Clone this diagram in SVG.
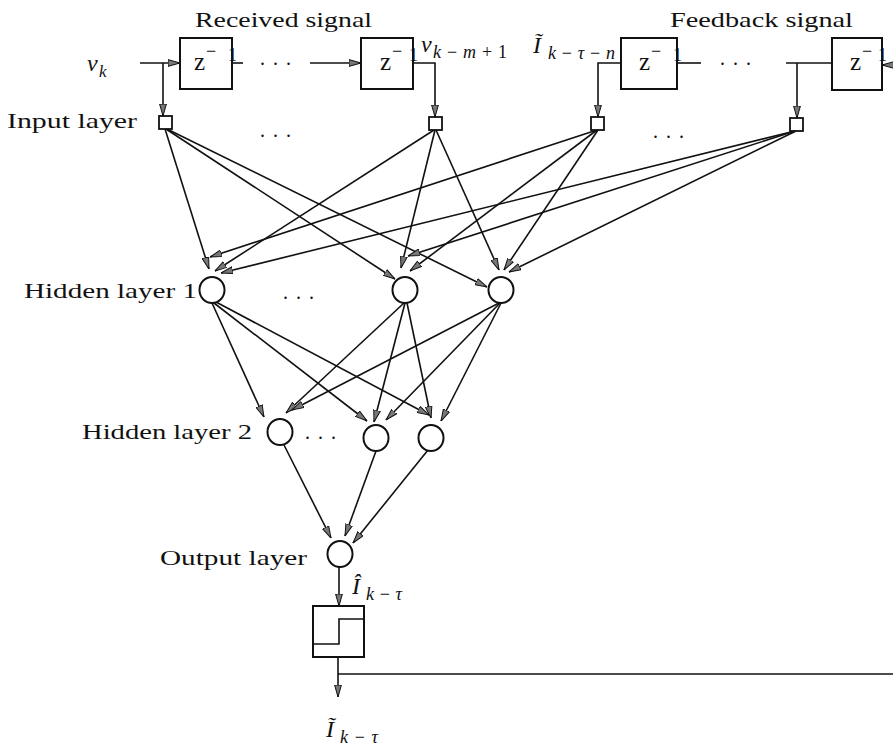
<svg xmlns="http://www.w3.org/2000/svg" width="893" height="748" viewBox="0 0 893 748">
<style>
  .lbl { font-family: "Liberation Serif", "Times New Roman", serif; font-size: 22px; fill: #111; }
  .math { font-family: "Liberation Serif", "Times New Roman", serif; font-style: italic; fill: #111; }
  .z { font-family: "Liberation Serif", "Times New Roman", serif; font-size: 25px; fill: #111; }
  .sup { font-family: "Liberation Serif", "Times New Roman", serif; font-size: 18px; fill: #111; }
  .dots { font-family: "Liberation Serif", "Times New Roman", serif; font-size: 20px; fill: #111; letter-spacing: 8px; }
  .box { fill: none; stroke: #111; stroke-width: 2; }
  .node { fill: #fff; stroke: #111; stroke-width: 2; }
  .sq { fill: #fff; stroke: #111; stroke-width: 1.8; }
  .w { fill: none; stroke: #111; stroke-width: 1.6; }
  .a { fill: none; stroke: #111; stroke-width: 1.6; marker-end: url(#arr); }
</style>
<defs>
  <marker id="arr" viewBox="0 0 12 8" refX="12" refY="4" markerWidth="12" markerHeight="8" markerUnits="userSpaceOnUse" orient="auto">
    <path d="M0,0.6 L12,4 L0,7.4 Z" fill="#777" stroke="#111" stroke-width="1"/>
  </marker>
</defs>
<rect width="893" height="748" fill="#fff"/>

<!-- titles -->
<text class="lbl" x="195" y="27" textLength="177" lengthAdjust="spacingAndGlyphs">Received signal</text>
<text class="lbl" x="670" y="27" textLength="183" lengthAdjust="spacingAndGlyphs">Feedback signal</text>

<!-- layer labels -->
<text class="lbl" x="7" y="128" textLength="130" lengthAdjust="spacingAndGlyphs">Input layer</text>
<text class="lbl" x="24" y="298" textLength="173" lengthAdjust="spacingAndGlyphs">Hidden layer 1</text>
<text class="lbl" x="82" y="439" textLength="170" lengthAdjust="spacingAndGlyphs">Hidden layer 2</text>
<text class="lbl" x="160" y="565" textLength="147" lengthAdjust="spacingAndGlyphs">Output layer</text>

<!-- signal labels -->
<g id="label-vk">
  <text class="math" x="87" y="71" font-size="24">v</text>
  <text class="math" x="99" y="77" font-size="17">k</text>
</g>
<g id="label-vkm1">
  <text class="math" x="421" y="52" font-size="24">v</text>
  <text class="math" x="433" y="58" font-size="18" textLength="74" lengthAdjust="spacing">k<tspan font-style="normal">−</tspan>m<tspan font-style="normal">+1</tspan></text>
</g>
<g id="label-Itn">
  <text class="math" x="533" y="53" font-size="24">Ĩ</text>
  <text class="math" x="548" y="59" font-size="18" textLength="67" lengthAdjust="spacing">k<tspan font-style="normal">−</tspan>τ<tspan font-style="normal">−</tspan>n</text>
</g>
<g id="label-Ihat">
  <text class="math" x="352" y="594" font-size="24">Î</text>
  <text class="math" x="366" y="600" font-size="18" textLength="36" lengthAdjust="spacing">k<tspan font-style="normal">−</tspan>τ</text>
</g>
<g id="label-Itilde">
  <text class="math" x="326" y="737" font-size="24">Ĩ</text>
  <text class="math" x="340" y="743" font-size="18" textLength="38" lengthAdjust="spacing">k<tspan font-style="normal">−</tspan>τ</text>
</g>

<!-- dots -->
<text class="dots" x="260" y="65">...</text>
<text class="dots" x="720" y="65">...</text>
<text class="dots" x="260" y="137">...</text>
<text class="dots" x="653" y="138">...</text>
<text class="dots" x="283" y="299">...</text>
<text class="dots" x="305" y="439">...</text>

<!-- connectors -->
<g id="connectors">
  <!-- delay line -->
  <path class="a" d="M140,63 H180"/>
  <path class="a" d="M163,63 V116"/>
  <path class="w" d="M232,63 H243"/>
  <path class="a" d="M310,63 H361"/>
  <path class="a" d="M413,63 H435 V117"/>
  <path class="a" d="M621,63 H598 V117"/>
  <path class="w" d="M677,63 H701"/>
  <path class="w" d="M786,63 H832"/>
  <path class="a" d="M797,63 V118"/>
  <path class="a" d="M893,65 H882"/>

  <!-- input -> hidden 1 -->
  <path class="a" d="M165,129 L209,269"/>
  <path class="a" d="M166,129 L395,279"/>
  <path class="a" d="M167,129 L487,287"/>
  <path class="a" d="M434,130 L215,271"/>
  <path class="a" d="M435,130 L401,268"/>
  <path class="a" d="M436,130 L499,270"/>
  <path class="a" d="M597,130 L210,257"/>
  <path class="a" d="M597,130 L410,271"/>
  <path class="a" d="M598,130 L504,270"/>
  <path class="a" d="M795,131 L221,273"/>
  <path class="a" d="M795,131 L408,256"/>
  <path class="a" d="M796,131 L509,272"/>

  <!-- hidden 1 -> hidden 2 -->
  <path class="a" d="M212,303 L264,417"/>
  <path class="a" d="M214,303 L367,421"/>
  <path class="a" d="M216,302 L429,415"/>
  <path class="a" d="M404,303 L286,413"/>
  <path class="a" d="M405,303 L374,422"/>
  <path class="a" d="M407,303 L431,418"/>
  <path class="a" d="M499,303 L292,410"/>
  <path class="a" d="M500,303 L386,420"/>
  <path class="a" d="M501,303 L441,421"/>

  <!-- hidden 2 -> output -->
  <path class="a" d="M284,445 L331,538"/>
  <path class="a" d="M376,451 L345,536"/>
  <path class="a" d="M428,450 L353,543"/>

  <!-- output -> threshold -> out -->
  <path class="a" d="M339,567 V606"/>
  <path class="a" d="M338,657 V697"/>
  <path class="w" d="M338,674 H893"/>
</g>

<!-- delay boxes -->
<g id="delay1">
  <text class="z" x="194" y="70">z<tspan class="sup" dx="1" dy="-13">−</tspan><tspan class="sup" x="228" dy="4">1</tspan></text>
  <rect class="box" x="180" y="38" width="52" height="51"/>
</g>
<g id="delay2">
  <text class="z" x="380" y="70">z<tspan class="sup" dx="1" dy="-13">−</tspan><tspan class="sup" x="409" dy="4">1</tspan></text>
  <rect class="box" x="361" y="38" width="52" height="51"/>
</g>
<g id="delay3">
  <text class="z" x="639" y="70">z<tspan class="sup" dx="1" dy="-13">−</tspan><tspan class="sup" x="673" dy="4">1</tspan></text>
  <rect class="box" x="621" y="38" width="56" height="51"/>
</g>
<g id="delay4">
  <text class="z" x="850" y="70">z<tspan class="sup" dx="1" dy="-13">−</tspan><tspan class="sup" x="878" dy="4">1</tspan></text>
  <rect class="box" x="832" y="38" width="50" height="52"/>
</g>

<!-- input nodes -->
<g id="in1"><rect class="sq" x="159" y="116" width="13" height="13"/></g>
<g id="in2"><rect class="sq" x="429" y="117" width="13" height="13"/></g>
<g id="in3"><rect class="sq" x="591" y="117" width="13" height="13"/></g>
<g id="in4"><rect class="sq" x="790" y="118" width="13" height="13"/></g>

<!-- hidden layer 1 -->
<g id="h1-1"><ellipse class="node" cx="212" cy="290" rx="12.5" ry="13"/></g>
<g id="h1-2"><ellipse class="node" cx="405" cy="290" rx="12.5" ry="13"/></g>
<g id="h1-3"><ellipse class="node" cx="501" cy="290" rx="12.5" ry="13"/></g>

<!-- hidden layer 2 -->
<g id="h2-1"><ellipse class="node" cx="280" cy="432" rx="12.5" ry="13"/></g>
<g id="h2-2"><ellipse class="node" cx="376" cy="438" rx="12.5" ry="13"/></g>
<g id="h2-3"><ellipse class="node" cx="431" cy="438" rx="12.5" ry="13"/></g>

<!-- output -->
<g id="out"><ellipse class="node" cx="340" cy="554" rx="12.5" ry="13"/></g>

<!-- threshold -->
<g id="threshold">
  <rect class="box" x="313" y="606" width="51" height="51"/>
  <path class="w" d="M313,644 H339 V619 H364"/>
</g>
</svg>
